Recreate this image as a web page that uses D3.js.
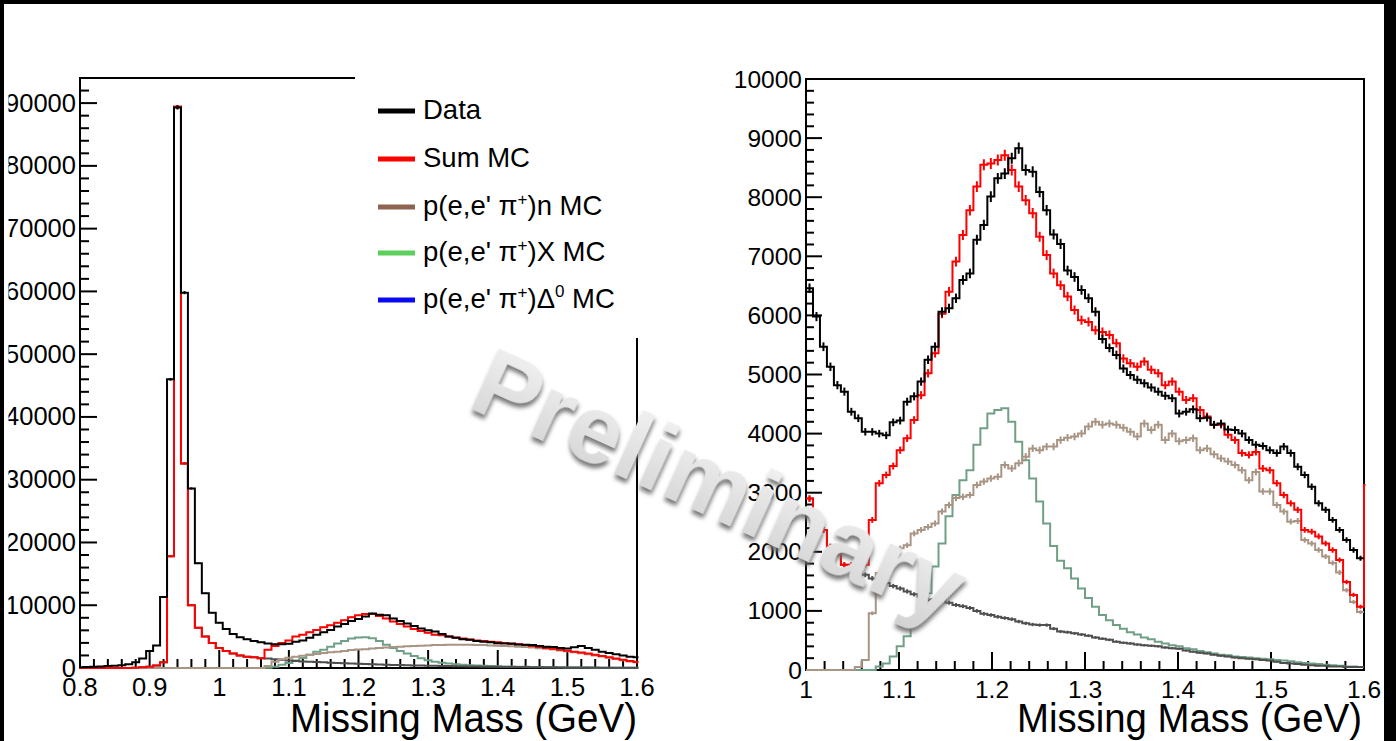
<!DOCTYPE html>
<html>
<head>
<meta charset="utf-8">
<script src="https://cdn.jsdelivr.net/npm/d3@7"></script>
<style>
  html, body { margin: 0; padding: 0; background: #fff; }
  svg { display: block; }
  text { font-family: "Liberation Sans", Arial, Helvetica, sans-serif; }
</style>
</head>
<body>
<svg id="chart" width="1396" height="741"></svg>
<script>
// ---------------- data ----------------
// Left panel: 0.01 GeV bins centred on 0.80, 0.81, ..., 1.60
const leftFirstCenter = 0.80;
const leftBinWidth = 0.01;
const leftData = [
  100,150,200,250,300,350,450,600,900,1500,
  2700,3600,11300,46000,89300,59800,28600,16700,11900,8800,
  7200,6200,5400,4900,4600,4300,4100,3900,3800,3800,
  3850,4200,4400,4800,5300,5700,6050,6600,7000,7500,
  7800,8200,8700,8500,8400,7900,7500,7100,6700,6300,
  6000,5800,5400,5000,4800,4600,4500,4300,4200,4100,
  3950,3900,3850,3750,3700,3650,3500,3400,3350,3200,
  3100,3300,3500,3200,2900,2600,2400,2200,2000,1800,
  1700
];
const leftSumMC = [
  0,0,0,0,0,0,0,0,50,100,
  200,400,900,17800,89400,32600,10000,6400,5000,4000,
  3200,2700,2300,2000,1800,1700,1550,2900,3500,4000,
  4400,5000,5300,5700,6050,6500,6800,7200,7600,8100,
  8400,8600,8600,8300,7900,7400,7000,6600,6200,5900,
  5600,5300,5200,5000,4850,4700,4550,4400,4300,4200,
  4100,4000,3900,3800,3650,3500,3350,3200,3050,2900,
  2750,2600,2450,2300,2100,1900,1700,1500,1300,1100,
  950
];
const leftPiN = [
  0,0,0,0,0,0,0,0,0,0,
  0,0,0,0,0,0,0,0,0,0,
  0,0,0,0,0,0,0,300,1000,1400,
  1650,1800,1950,2100,2250,2400,2500,2600,2700,2850,
  2950,3000,3100,3200,3250,3350,3400,3450,3500,3550,
  3600,3650,3650,3700,3700,3700,3700,3650,3650,3600,
  3550,3500,3450,3400,3350,3250,3150,3050,2950,2800,
  2650,2500,2350,2200,2000,1850,1650,1450,1250,1050,
  900
];
const leftPiX = [
  0,0,0,0,0,0,0,0,0,0,
  0,0,0,0,0,0,0,0,0,0,
  0,0,0,0,0,0,0,50,200,500,
  800,1200,1600,2100,2600,2900,3400,3900,4300,4700,
  4850,4900,4750,4300,3700,3200,2700,2300,1900,1550,
  1250,1000,850,700,600,500,450,400,350,300,
  270,240,220,200,180,160,140,120,110,100,
  90,80,70,60,50,50,40,40,30,30,
  30
];
const leftOther = [
  0,0,0,0,0,0,0,0,50,100,
  200,400,900,17800,89400,32600,10000,6400,5000,4000,
  3200,2700,2300,2000,1800,1700,1550,1500,1400,1300,
  1200,1100,1050,1000,950,900,850,800,750,700,
  660,620,580,550,520,490,460,430,400,380,
  360,340,320,300,280,260,240,220,200,190,
  180,170,160,150,140,130,120,110,100,90,
  80,70,70,60,60,50,50,40,40,40,
  30
];

// Right panel: 0.0075 GeV bins starting at 1.0 (the last Sum MC entry is the bin just past 1.6)
const rightLowEdge = 1.0;
const rightBinWidth = 0.0075;
const rightData = [
  6460,5980,5470,5130,4820,4710,4370,4260,4030,4030,
  4000,3970,4190,4220,4540,4630,4880,5250,5470,6060,
  6120,6290,6600,6710,7280,7530,8010,8320,8400,8660,
  8830,8460,8430,8090,7780,7370,7210,6760,6650,6430,
  6290,6060,5600,5450,5330,5100,4990,4910,4850,4780,
  4710,4640,4600,4340,4370,4410,4260,4270,4150,4170,
  4070,4060,4000,3890,3810,3790,3720,3670,3780,3670,
  3440,3300,3100,2820,2710,2540,2370,2200,2030,1890
];
const rightSumMC = [
  2900,2590,2370,2090,1970,1780,1780,1780,1780,2540,
  3160,3300,3450,3720,3920,4230,4650,5020,5360,6030,
  6400,6910,7360,7780,8180,8550,8570,8630,8710,8460,
  8180,7950,7730,7330,7020,6710,6510,6320,6090,5920,
  5890,5750,5720,5670,5530,5270,5190,5130,5220,5080,
  5020,4820,4880,4710,4570,4600,4400,4290,4150,4150,
  3980,3890,3670,3640,3690,3410,3380,3160,2960,2820,
  2710,2370,2340,2260,2140,2030,1860,1490,1270,1070,
  3130
];
const rightPiN = [
  0,0,0,0,0,0,0,50,170,960,
  1640,1750,1860,2060,2110,2310,2370,2420,2480,2680,
  2790,2910,2930,2960,3130,3190,3240,3270,3470,3410,
  3500,3610,3750,3720,3780,3780,3890,3930,3950,4000,
  4120,4200,4150,4170,4150,4100,4030,3950,4170,4060,
  4150,3890,4000,3870,3890,3920,3720,3750,3650,3580,
  3530,3470,3380,3210,3350,3020,3020,2790,2680,2510,
  2520,2200,2140,2030,1920,1810,1650,1350,1150,980
];
const rightPiX = [
  0,0,0,0,0,0,0,0,0,0,
  60,110,230,400,570,820,960,1300,1750,2140,
  2600,2960,3210,3380,3810,4090,4340,4400,4430,4200,
  3860,3550,3240,2850,2480,2100,1850,1720,1550,1380,
  1220,1070,930,840,760,700,640,600,550,520,
  480,450,420,400,370,350,320,300,280,260,
  250,230,220,210,200,190,180,170,160,150,
  130,120,110,100,90,80,70,60,60,50
];
const rightOther = [
  2900,2590,2370,2090,1970,1780,1780,1730,1610,1550,
  1500,1470,1420,1380,1330,1280,1240,1190,1200,1240,
  1140,1100,1080,1050,1000,950,930,900,880,860,
  820,790,770,760,760,700,650,640,620,600,
  580,550,530,510,480,460,450,430,420,410,
  400,380,370,360,330,310,290,280,260,240,
  230,210,200,190,180,170,160,140,120,110,
  100,90,80,70,70,60,60,50,50,50
];

// Axis tick values
const leftYTicks = [0,10000,20000,30000,40000,50000,60000,70000,80000,90000];
const leftXTicks = [0.8,0.9,1.0,1.1,1.2,1.3,1.4,1.5,1.6];
const rightYTicks = [0,1000,2000,3000,4000,5000,6000,7000,8000,9000,10000];
const rightXTicks = [1.0,1.1,1.2,1.3,1.4,1.5,1.6];
const axisTitle = "Missing Mass (GeV)";

// Legend entries
const legendLabels = ["Data", "Sum MC", "n", "X", "delta"];
const legendColors = ["#000000", "#ff0000", "#8c6450", "#5ccf5c", "#0a0af0"];

// ---------------- drawing ----------------
const svg = d3.select("#chart");
svg.append("rect").attr("width", 1396).attr("height", 741).attr("fill", "#fff");

const defs = svg.append("defs");

const colors = {
  data: "#000000",
  sum: "#ff0000",
  piN: "#a99584",
  piX: "#6fa086",
  other: "#4f4f4f"
};

function panel(cfg) {
  const g = svg.append("g");
  const x = d3.scaleLinear().domain(cfg.xDomain).range(cfg.xRange);
  const y = d3.scaleLinear().domain(cfg.yDomain).range(cfg.yRange);
  const x0 = cfg.xRange[0], x1 = cfg.xRange[1];
  const yb = cfg.yRange[0], yt = cfg.yRange[1];

  // clip for histogram lines
  defs.append("clipPath").attr("id", cfg.id + "-clip")
    .append("rect")
    .attr("x", x0 - 1).attr("y", yt - 1)
    .attr("width", x1 - x0 + 2.5).attr("height", yb - yt + 2);

  // frame
  const frame = g.append("g").attr("stroke", "#000").attr("stroke-width", 2).attr("fill", "none");
  frame.append("path").attr("d", cfg.framePath(x0, x1, yt, yb));

  // y ticks
  const yMinor = d3.range(cfg.yDomain[0], cfg.yDomain[1] + 1e-6, cfg.yMinorStep);
  g.append("g").selectAll("line").data(yMinor).join("line")
    .attr("x1", x0).attr("x2", d => x0 + (cfg.yTicks.includes(d) ? cfg.yMajorLen : cfg.yMinorLen))
    .attr("y1", d => y(d)).attr("y2", d => y(d))
    .attr("stroke", "#000").attr("stroke-width", 2);

  // x ticks
  const nMinor = Math.round((cfg.xDomain[1] - cfg.xDomain[0]) / cfg.xMinorStep);
  const xMinor = d3.range(0, nMinor + 1).map(i => cfg.xDomain[0] + i * cfg.xMinorStep);
  g.append("g").selectAll("line").data(xMinor).join("line")
    .attr("x1", d => x(d)).attr("x2", d => x(d))
    .attr("y1", yb)
    .attr("y2", d => yb - (cfg.xTicks.some(t => Math.abs(t - d) < 1e-6) ? cfg.xMajorLen : cfg.xMinorLen))
    .attr("stroke", "#000").attr("stroke-width", 2);

  // y tick labels
  g.append("g").selectAll("text").data(cfg.yTicks).join("text")
    .attr("x", x0 - 4).attr("y", d => y(d) + 8.5)
    .attr("text-anchor", "end").attr("font-size", cfg.labelSize)
    .text(d => d3.format("d")(d));

  // x tick labels
  g.append("g").selectAll("text").data(cfg.xTicks).join("text")
    .attr("x", d => x(d)).attr("y", yb + 28)
    .attr("text-anchor", "middle").attr("font-size", cfg.labelSize)
    .text(d => d3.format("~g")(d));

  // axis title
  g.append("text")
    .attr("x", cfg.titleRight).attr("y", 732)
    .attr("text-anchor", "end").attr("font-size", 41)
    .attr("textLength", cfg.titleWidth).attr("lengthAdjust", "spacingAndGlyphs")
    .text(axisTitle);

  // histograms
  const hg = g.append("g").attr("clip-path", `url(#${cfg.id}-clip)`);
  const step = d3.line().curve(d3.curveStepAfter).x(d => x(d[0])).y(d => y(d[1]));

  function edges(values) {
    const pts = values.map((v, i) => [cfg.lowEdge + i * cfg.binWidth, v]);
    pts.push([cfg.lowEdge + values.length * cfg.binWidth, values[values.length - 1]]);
    return pts;
  }
  function hist(values, color, withErrors) {
    hg.append("path").attr("d", step(edges(values)))
      .attr("fill", "none").attr("stroke", color).attr("stroke-width", 2);
    if (withErrors) {
      hg.append("g").selectAll("line").data(values).join("line")
        .attr("x1", (v, i) => x(cfg.lowEdge + (i + 0.5) * cfg.binWidth))
        .attr("x2", (v, i) => x(cfg.lowEdge + (i + 0.5) * cfg.binWidth))
        .attr("y1", v => y(v - Math.sqrt(v)))
        .attr("y2", v => y(v + Math.sqrt(v)))
        .attr("stroke", color).attr("stroke-width", 2);
    }
  }
  hist(cfg.series.piX, colors.piX, false);
  hist(cfg.series.other, colors.other, true);
  hist(cfg.series.piN, colors.piN, true);
  hist(cfg.series.sum, colors.sum, true);
  hist(cfg.series.data, colors.data, true);
  return g;
}

// Left panel (open frame: the legend box covers its upper right corner)
panel({
  id: "left",
  xDomain: [0.8, 1.6], xRange: [80, 637],
  yDomain: [0, 94000], yRange: [668, 78],
  framePath: (x0, x1, yt, yb) => `M${x0},${yb}V${yt}H355M${x1},338V${yb}H${x0}`,
  yTicks: leftYTicks, yMinorStep: 2000, yMajorLen: 17, yMinorLen: 9,
  xTicks: leftXTicks, xMinorStep: 0.02, xMajorLen: 18, xMinorLen: 9,
  labelSize: 25.5,
  titleRight: 637, titleWidth: 347,
  lowEdge: leftFirstCenter - leftBinWidth / 2, binWidth: leftBinWidth,
  series: { data: leftData, sum: leftSumMC, piN: leftPiN, piX: leftPiX, other: leftOther }
});

// Right panel
panel({
  id: "right",
  xDomain: [1.0, 1.6], xRange: [806, 1364],
  yDomain: [0, 10000], yRange: [670, 79],
  framePath: (x0, x1, yt, yb) => `M${x0},${yb}V${yt}H${x1}V${yb}Z`,
  yTicks: rightYTicks, yMinorStep: 200, yMajorLen: 16, yMinorLen: 8,
  xTicks: rightXTicks, xMinorStep: 0.02, xMajorLen: 18, xMinorLen: 9,
  labelSize: 24.5,
  titleRight: 1362, titleWidth: 345,
  lowEdge: rightLowEdge, binWidth: rightBinWidth,
  series: { data: rightData, sum: rightSumMC, piN: rightPiN, piX: rightPiX, other: rightOther }
});

// Legend (white box over the left panel's upper right corner)
const leg = svg.append("g");
leg.append("rect").attr("x", 356).attr("y", 40).attr("width", 330).attr("height", 297).attr("fill", "#fff");
const legY = [109, 157, 205, 251, 298];
leg.selectAll("line.sym").data(legendColors).join("line")
  .attr("class", "sym")
  .attr("x1", 378).attr("x2", 415)
  .attr("y1", (d, i) => legY[i] + 2).attr("y2", (d, i) => legY[i] + 2)
  .attr("stroke", d => d).attr("stroke-width", 5);

const legText = leg.selectAll("text").data(legendLabels).join("text")
  .attr("x", 423).attr("y", (d, i) => legY[i] + 10)
  .attr("font-size", 27.5);
legText.each(function(d) {
  const t = d3.select(this);
  if (d === "Data" || d === "Sum MC") { t.text(d); return; }
  t.append("tspan").text("p(e,e' \u03c0");
  t.append("tspan").attr("font-size", 17).attr("dy", -10).text("+");
  if (d === "n") {
    t.append("tspan").attr("dy", 10).text(")n MC");
  } else if (d === "X") {
    t.append("tspan").attr("dy", 10).text(")X MC");
  } else {
    t.append("tspan").attr("dy", 10).text(")\u0394");
    t.append("tspan").attr("font-size", 17).attr("dy", -11).text("0");
    t.append("tspan").attr("dy", 11).text(" MC");
  }
});

// "Preliminary" stamp
const f = defs.append("filter").attr("id", "stamp").attr("x", "-20%").attr("y", "-40%").attr("width", "140%").attr("height", "180%");
f.append("feGaussianBlur").attr("in", "SourceAlpha").attr("stdDeviation", 2.2).attr("result", "blur");
f.append("feOffset").attr("in", "blur").attr("dx", 2).attr("dy", 4).attr("result", "off");
f.append("feFlood").attr("flood-color", "#6a6a6a").attr("flood-opacity", 0.9).attr("result", "col");
f.append("feComposite").attr("in", "col").attr("in2", "off").attr("operator", "in").attr("result", "shadow");
const fm = f.append("feMerge");
fm.append("feMergeNode").attr("in", "shadow");
fm.append("feMergeNode").attr("in", "SourceGraphic");

const grad = defs.append("linearGradient").attr("id", "stampFill")
  .attr("x1", 0).attr("y1", 0).attr("x2", 0).attr("y2", 1);
grad.append("stop").attr("offset", "0%").attr("stop-color", "#f5f5f5");
grad.append("stop").attr("offset", "100%").attr("stop-color", "#d2d2d2");

svg.append("text")
  .attr("transform", "translate(466,406) rotate(24.5)")
  .attr("font-family", "'Open Sans', 'DejaVu Sans', sans-serif")
  .attr("font-weight", 600)
  .attr("font-size", 96)
  .attr("letter-spacing", 0.5)
  .attr("fill", "url(#stampFill)")
  .attr("filter", "url(#stamp)")
  .text("Preliminary");

// dark border of the image, with the white margin that trims the left labels
svg.append("rect").attr("x", 4).attr("y", 4).attr("width", 4.5).attr("height", 737).attr("fill", "#fff");
svg.append("rect").attr("x", 0).attr("y", 0).attr("width", 1396).attr("height", 4).attr("fill", "#000");
svg.append("rect").attr("x", 0).attr("y", 0).attr("width", 4).attr("height", 741).attr("fill", "#000");
svg.append("rect").attr("x", 1384).attr("y", 0).attr("width", 12).attr("height", 741).attr("fill", "#000");
</script>
</body>
</html>
